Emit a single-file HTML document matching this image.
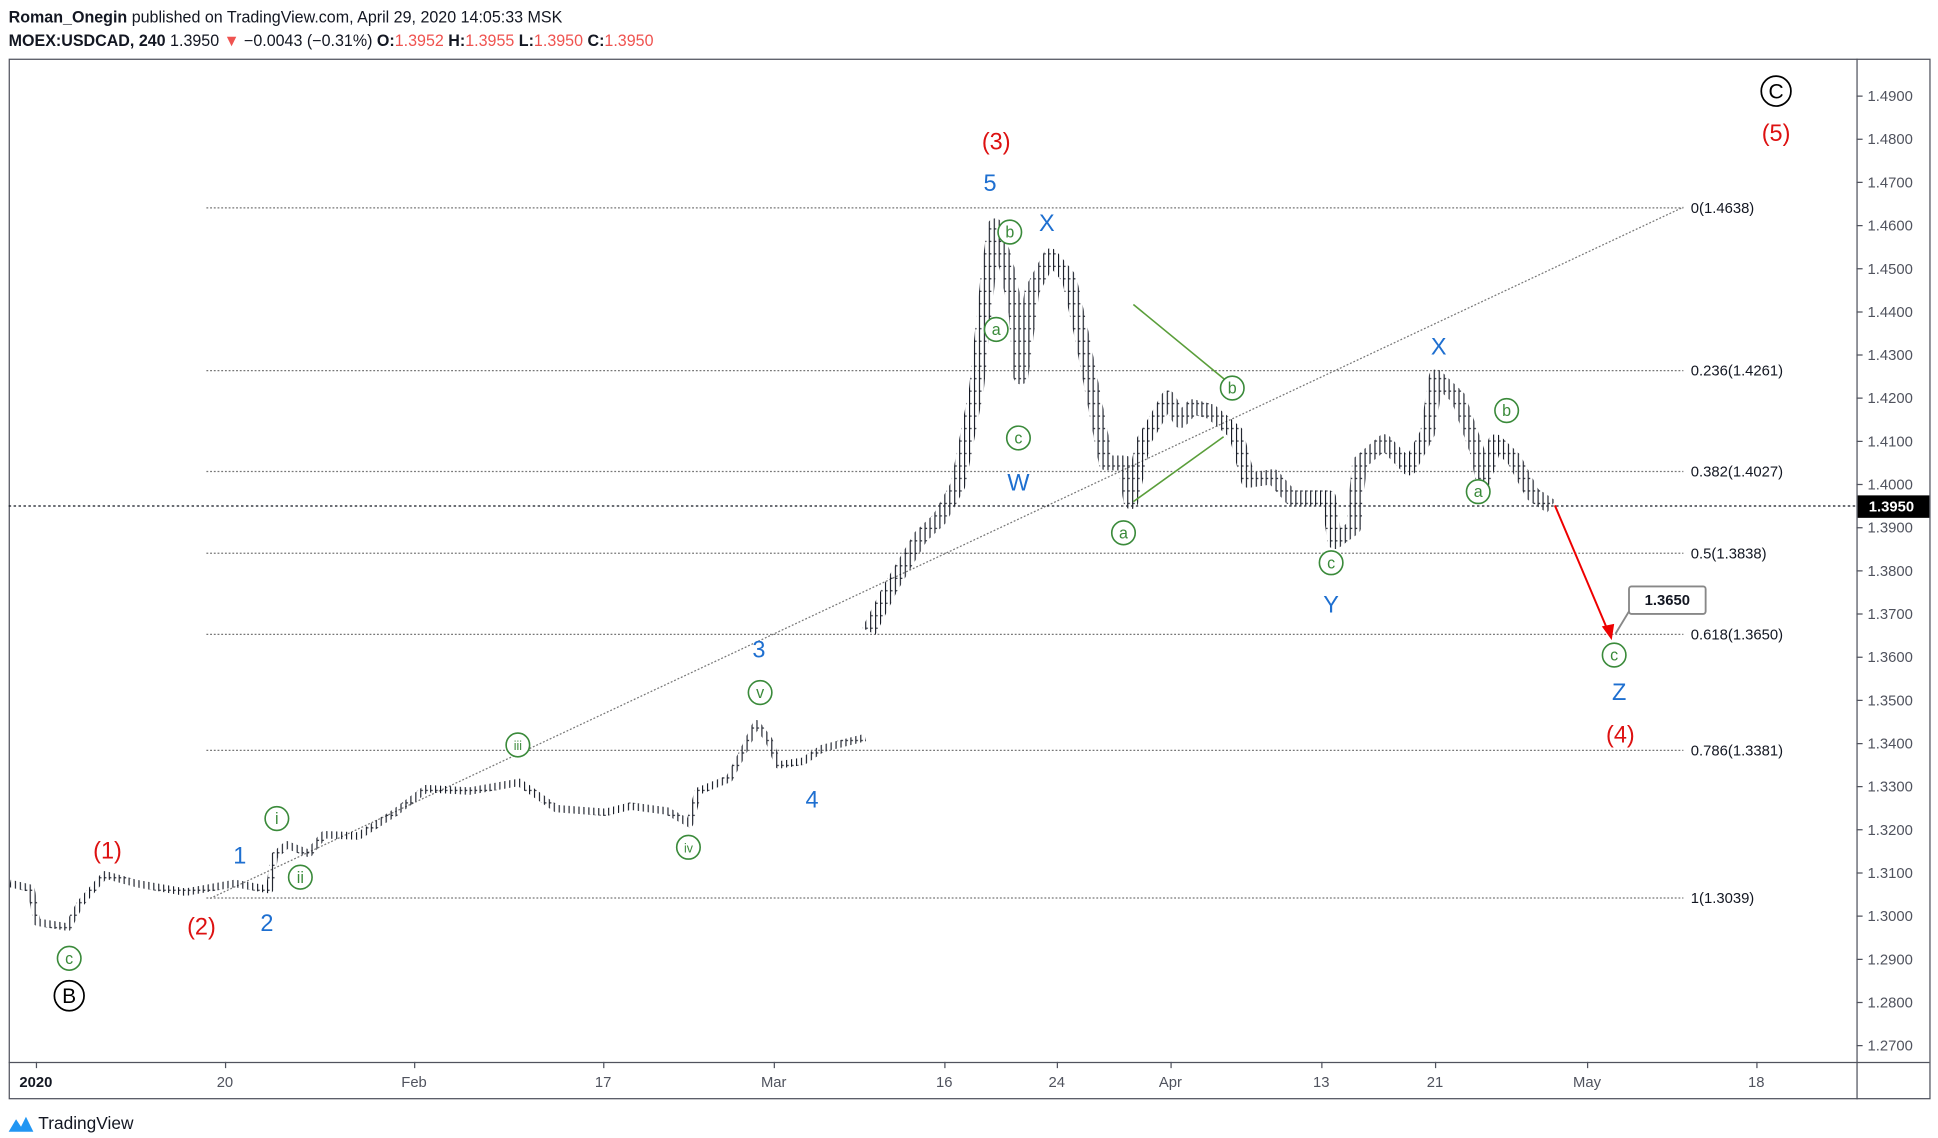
<!DOCTYPE html>
<html><head><meta charset="utf-8">
<style>
html,body{margin:0;padding:0;background:#fff;}
svg{display:block;}
text{font-family:"Liberation Sans",sans-serif;}
</style></head>
<body>
<svg width="1938" height="1138" viewBox="0 0 1568 912" preserveAspectRatio="none" xmlns="http://www.w3.org/2000/svg">
<defs>
<pattern id="vp" x="0" y="0" width="4" height="10" patternUnits="userSpaceOnUse">
<rect x="0" y="0" width="0.9" height="10" fill="#131722"/>
<rect x="0.9" y="3" width="1.2" height="0.9" fill="#131722"/>
<rect x="-1.2" y="7" width="1.2" height="0.9" fill="#131722"/>
</pattern>
</defs>
<rect width="1568" height="912" fill="#fff"/>
<text x="7" y="18" font-size="13" fill="#131722"><tspan font-weight="bold">Roman_Onegin</tspan> published on TradingView.com, April 29, 2020 14:05:33 MSK</text>
<text x="7" y="37" font-size="13" fill="#131722"><tspan font-weight="bold">MOEX:USDCAD, 240</tspan> 1.3950 <tspan fill="#ef5350">▼</tspan> −0.0043 (−0.31%) <tspan font-weight="bold">O:</tspan><tspan fill="#ef5350">1.3952</tspan> <tspan font-weight="bold">H:</tspan><tspan fill="#ef5350">1.3955</tspan> <tspan font-weight="bold">L:</tspan><tspan fill="#ef5350">1.3950</tspan> <tspan font-weight="bold">C:</tspan><tspan fill="#ef5350">1.3950</tspan></text>
<rect x="7.5" y="47.5" width="1554" height="833" fill="none" stroke="#50535e"/>
<line x1="1502.5" y1="47" x2="1502.5" y2="881" stroke="#50535e"/>
<line x1="7" y1="851.5" x2="1561" y2="851.5" stroke="#50535e"/>
<g font-size="12" fill="#50535e" stroke="none">
<text x="1511" y="81">1.4900</text><text x="1511" y="115.6">1.4800</text><text x="1511" y="150.2">1.4700</text><text x="1511" y="184.8">1.4600</text><text x="1511" y="219.4">1.4500</text><text x="1511" y="254">1.4400</text><text x="1511" y="288.5">1.4300</text><text x="1511" y="323.1">1.4200</text><text x="1511" y="357.7">1.4100</text><text x="1511" y="392.3">1.4000</text><text x="1511" y="426.9">1.3900</text><text x="1511" y="461.5">1.3800</text><text x="1511" y="496.1">1.3700</text><text x="1511" y="530.7">1.3600</text><text x="1511" y="565.3">1.3500</text><text x="1511" y="599.9">1.3400</text><text x="1511" y="634.4">1.3300</text><text x="1511" y="669">1.3200</text><text x="1511" y="703.6">1.3100</text><text x="1511" y="738.2">1.3000</text><text x="1511" y="772.8">1.2900</text><text x="1511" y="807.4">1.2800</text><text x="1511" y="842">1.2700</text>
</g>
<path stroke="#50535e" d="M1502 77H1507M1502 111.6H1507M1502 146.2H1507M1502 180.8H1507M1502 215.4H1507M1502 250H1507M1502 284.5H1507M1502 319.1H1507M1502 353.7H1507M1502 388.3H1507M1502 422.9H1507M1502 457.5H1507M1502 492.1H1507M1502 526.7H1507M1502 561.3H1507M1502 595.9H1507M1502 630.4H1507M1502 665H1507M1502 699.6H1507M1502 734.2H1507M1502 768.8H1507M1502 803.4H1507M1502 838H1507"/>
<g font-size="12" fill="#50535e" text-anchor="middle">
<text x="29" y="871" font-weight="bold" fill="#131722">2020</text><text x="182" y="871">20</text><text x="335" y="871">Feb</text><text x="488" y="871">17</text><text x="626" y="871">Mar</text><text x="764" y="871">16</text><text x="855" y="871">24</text><text x="947" y="871">Apr</text><text x="1069" y="871">13</text><text x="1161" y="871">21</text><text x="1284" y="871">May</text><text x="1421" y="871">18</text>
</g>
<path stroke="#50535e" d="M29.5 851V856M182.5 851V856M335.5 851V856M488.5 851V856M626.5 851V856M764.5 851V856M855.5 851V856M947.5 851V856M1069.5 851V856M1161.5 851V856M1284.5 851V856M1421.5 851V856"/>
<g stroke="#777" stroke-dasharray="1.5,1.5">
<line x1="167" y1="166.6" x2="1362" y2="166.6"/><line x1="167" y1="297" x2="1362" y2="297"/><line x1="167" y1="377.9" x2="1362" y2="377.9"/><line x1="167" y1="443.4" x2="1362" y2="443.4"/><line x1="167" y1="508.4" x2="1362" y2="508.4"/><line x1="167" y1="601.4" x2="1362" y2="601.4"/><line x1="167" y1="719.7" x2="1362" y2="719.7"/>
</g>
<g font-size="12" fill="#131722">
<text x="1368" y="170.6">0(1.4638)</text><text x="1368" y="301">0.236(1.4261)</text><text x="1368" y="381.9">0.382(1.4027)</text><text x="1368" y="447.4">0.5(1.3838)</text><text x="1368" y="512.4">0.618(1.3650)</text><text x="1368" y="605.4">0.786(1.3381)</text><text x="1368" y="723.7">1(1.3039)</text>
</g>
<line x1="170" y1="720" x2="1362" y2="166" stroke="#777" stroke-dasharray="1.5,1.5"/>
<line x1="7" y1="405.5" x2="1502" y2="405.5" stroke="#131722" stroke-dasharray="2,2"/>
<polyline fill="none" stroke="url(#vp)" stroke-width="6" stroke-linejoin="round" points="8,708 25,712 30,739 55,743 65,724 85,701 110,708 150,715 190,708 218,713 222,686 232,677 250,684 262,669 290,670 320,651 345,632 380,634 420,627 450,648 490,651 510,646 540,650 558,660 565,634 590,624 600,605 612,580 622,593 630,613 650,610 665,600 700,591"/>
<polyline fill="none" stroke="url(#vp)" stroke-width="12" stroke-linejoin="round" points="703,506 720,472 745,430 760,416 775,389 790,312 800,216 805,181 815,216 822,250 826,302 835,233 850,205 865,223 875,268 885,319 895,371 910,371 915,402 925,354 935,337 945,319 955,337 965,326 980,330 1000,347 1010,385 1030,382 1045,399 1075,399 1080,434 1095,423 1100,371 1120,354 1140,375 1155,347 1162,302 1180,319 1195,361 1200,385 1210,354 1225,368 1240,396 1255,406"/>
<g stroke="#5a9e3a" stroke-width="1.3"><line x1="917" y1="244" x2="992" y2="305"/><line x1="917" y1="402" x2="990" y2="350"/></g>
<line x1="1258" y1="405" x2="1302" y2="508" stroke="#e00" stroke-width="1.6"/>
<polygon points="1304,513 1296,502 1306,500" fill="#e00"/>
<rect x="1318" y="470" width="62" height="22" rx="2" fill="#fff" stroke="#888" stroke-width="1.5"/>
<line x1="1318" y1="490" x2="1307" y2="508" stroke="#888" stroke-width="1.5"/>
<text x="1349" y="485" font-size="12" font-weight="bold" text-anchor="middle" fill="#131722">1.3650</text>
<rect x="1503" y="397" width="58" height="18" fill="#000"/>
<text x="1512" y="410" font-size="12" font-weight="bold" fill="#fff">1.3950</text>
<g fill="#fff" stroke="#3a8a3a" stroke-width="1.3">
<circle cx="56" cy="768" r="9.5"/><circle cx="224" cy="656" r="9.5"/><circle cx="243" cy="703" r="9.5"/><circle cx="419" cy="597" r="9.5"/><circle cx="557" cy="679" r="9.5"/><circle cx="615" cy="555" r="9.5"/><circle cx="817" cy="186" r="9.5"/><circle cx="806" cy="264" r="9.5"/><circle cx="824" cy="351" r="9.5"/><circle cx="909" cy="427" r="9.5"/><circle cx="997" cy="311" r="9.5"/><circle cx="1077" cy="451" r="9.5"/><circle cx="1219" cy="329" r="9.5"/><circle cx="1196" cy="394" r="9.5"/><circle cx="1306" cy="525" r="9.5"/>
</g>
<g fill="#3a8a3a" font-size="13" text-anchor="middle">
<text x="56" y="772.5">c</text><text x="224" y="660.5">i</text><text x="243" y="707.5">ii</text><text x="419" y="601" font-size="10">iii</text><text x="557" y="683" font-size="10">iv</text><text x="615" y="559.5">v</text><text x="817" y="190.5">b</text><text x="806" y="268.5">a</text><text x="824" y="355.5">c</text><text x="909" y="431.5">a</text><text x="997" y="315.5">b</text><text x="1077" y="455.5">c</text><text x="1219" y="333.5">b</text><text x="1196" y="398.5">a</text><text x="1306" y="529.5">c</text>
</g>
<g fill="#fff" stroke="#000" stroke-width="1.4"><circle cx="56" cy="798" r="12"/><circle cx="1437" cy="73" r="12"/></g>
<g font-size="17" text-anchor="middle" fill="#000"><text x="56" y="804">B</text><text x="1437" y="79">C</text></g>
<g font-size="19" text-anchor="middle" fill="#dd1111">
<text x="87" y="688">(1)</text><text x="163" y="749">(2)</text><text x="806" y="120">(3)</text><text x="1311" y="595">(4)</text><text x="1437" y="113">(5)</text>
</g>
<g font-size="19" text-anchor="middle" fill="#1e6fd0">
<text x="194" y="692">1</text><text x="216" y="746">2</text><text x="614" y="527">3</text><text x="657" y="647">4</text><text x="801" y="153">5</text><text x="847" y="185">X</text><text x="824" y="393">W</text><text x="1077" y="491">Y</text><text x="1164" y="284">X</text><text x="1310" y="561">Z</text>
</g>
<path d="M7 907 L13 897 L17 903 L21 895 L27 907 Z" fill="#2196f3"/>
<text x="31" y="905" font-size="14" fill="#131722">TradingView</text>
</svg>
</body></html>
